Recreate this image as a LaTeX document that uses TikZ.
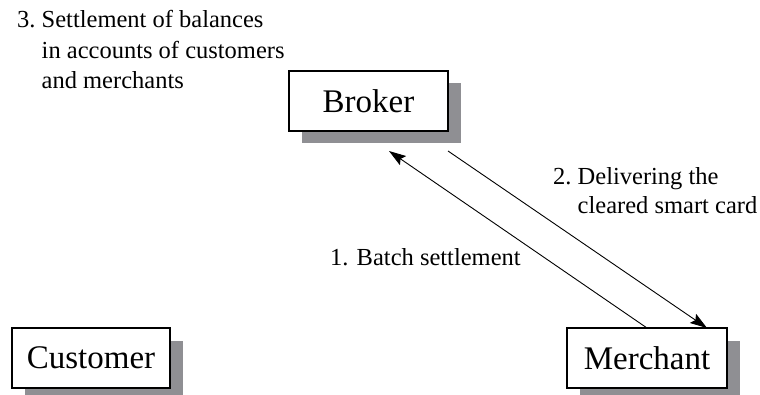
\documentclass[tikz,border=0pt]{standalone}
\usepackage{fontspec}
\setmainfont{Liberation Serif}
\usetikzlibrary{arrows.meta,shadows}

\definecolor{shadowgray}{RGB}{143,143,147}

\tikzset{
  party/.style={draw=black, line width=1.2pt, fill=white, rectangle,
    minimum height=60pt, inner sep=0pt, outer sep=0pt,
    font=\fontsize{33}{40}\selectfont,
    drop shadow={shadow xshift=12.5pt, shadow yshift=-12.5pt,
      fill=shadowgray, opacity=1}},
  flow/.style={line width=0.9pt, -{Stealth[length=17pt,width=11pt,inset=3pt]}},
  steplabel/.style={inner sep=0pt, anchor=base west}
}

\begin{document}
\begin{tikzpicture}[x=1pt,y=1pt]
  \useasboundingbox (0,0) rectangle (760,394);

  % parties
  \node[party, minimum width=159pt] (broker) at (368.5,293) {Broker};
  \node[party, minimum width=158pt] (customer) at (91,36) {Customer};
  \node[party, minimum width=160pt] (merchant) at (647,36) {Merchant};

  % arrow end points just below the broker's shadow
  \coordinate (brokerIn) at ([shift={(20.5,-20)}]broker.south);
  \coordinate (brokerOut) at ([shift={(0,-20)}]broker.south east);
  \coordinate (merchantIn) at ([shift={(60,0)}]merchant.north);

  \draw[flow] (merchant.north) -- (brokerIn);
  \draw[flow] (brokerOut) -- (merchantIn);

  % step labels
  \node[steplabel] (s3) at (17,366) {\fontsize{24.5}{30.5}\selectfont
    \begin{tabular}[t]{@{}l@{\ }l@{}}
      3. & Settlement of balances\\
         & in accounts of customers\\
         & and merchants
    \end{tabular}};
  \node[steplabel] (s2) at (553,209) {\fontsize{24.5}{28.5}\selectfont
    \begin{tabular}[t]{@{}l@{\ }l@{}}
      2. & Delivering the\\
         & cleared smart card
    \end{tabular}};
  \node[steplabel] (s1) at (330,129) {\fontsize{24.5}{30}\selectfont 1. Batch settlement};
\end{tikzpicture}
\end{document}
